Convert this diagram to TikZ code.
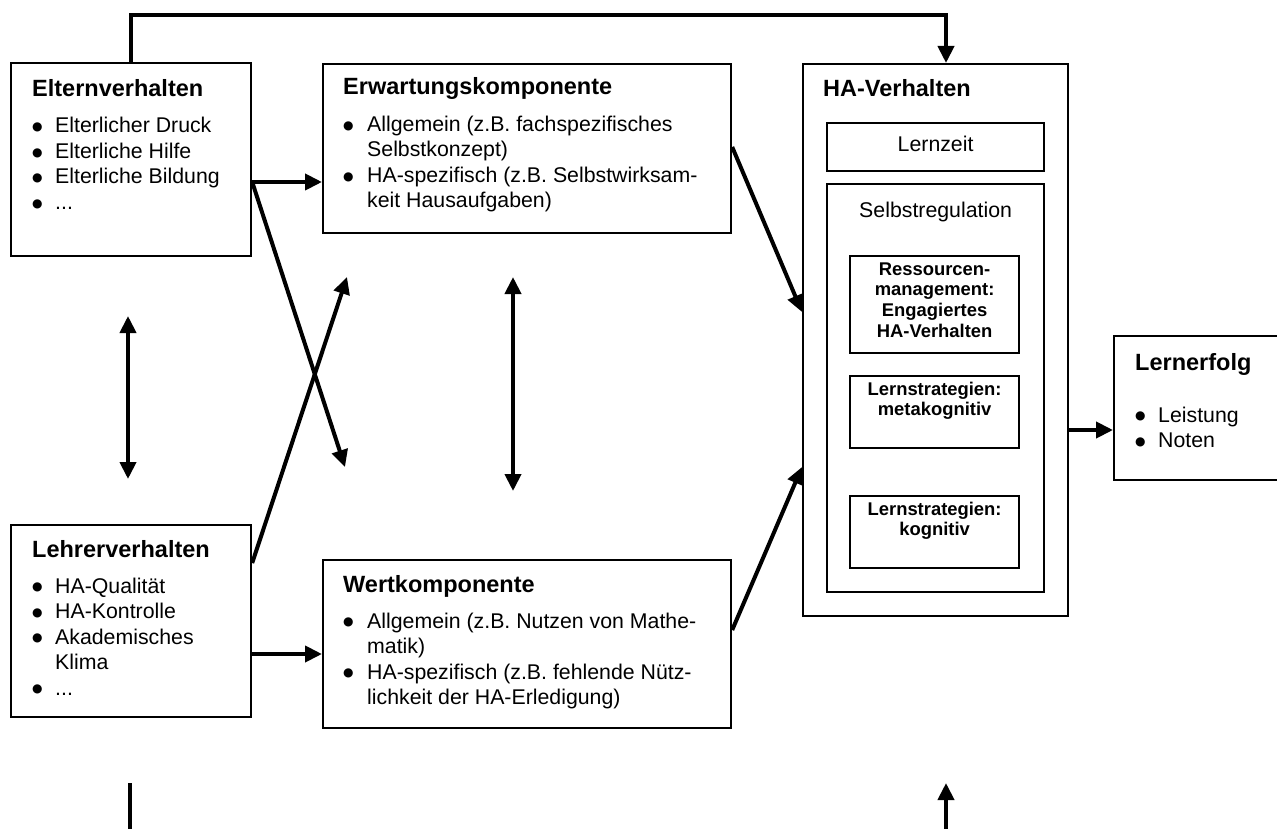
\documentclass[tikz,border=0pt]{standalone}
\usepackage{fontspec}
\setmainfont{Liberation Sans}
\newfontfamily\dejavu{DejaVu Sans}
\usetikzlibrary{arrows.meta,calc}
\newcommand{\ttl}[1]{{\fontsize{23.5}{25.5}\selectfont\bfseries #1}}
\newcommand{\bul}{\raisebox{2.3pt}{\dejavu\fontsize{12}{12}\selectfont ●}}
\tikzset{
 box/.style={draw, line width=2.2pt, rectangle, inner sep=0pt, anchor=north west},
 txt/.style={anchor=base west, inner sep=0pt, font=\fontsize{21.3}{25.5}\selectfont},
 ctxt/.style={anchor=base, inner sep=0pt, font=\fontsize{21.3}{25.5}\selectfont},
 stxt/.style={anchor=base, inner sep=0pt, font=\fontsize{18.4}{20.7}\selectfont\bfseries},
 arr/.style={line width=4pt, -{Triangle[length=17pt,width=16pt]}},
 darr/.style={line width=4pt, {Triangle[length=17pt,width=16pt]}-{Triangle[length=17pt,width=16pt]}},
 ln/.style={line width=4pt},
}
\begin{document}
\begin{tikzpicture}[x=1pt,y=-1pt]
\clip (0,0) rectangle (1277,829);
% boxes
\node[box, minimum width=240pt, minimum height=193pt] (eltern) at (10,62) {};
\node[box, minimum width=408pt, minimum height=169pt] (erw) at (322,63) {};
\node[box, minimum width=240pt, minimum height=192pt] (lehrer) at (10,524) {};
\node[box, minimum width=408pt, minimum height=168pt] (wert) at (322,559) {};
\node[box, minimum width=265pt, minimum height=552pt] (ha) at (802,63) {};
\node[box, minimum width=217pt, minimum height=48pt] (lernzeit) at (826,122) {};
\node[box, minimum width=217pt, minimum height=408pt] (selbst) at (826,183) {};
\node[box, minimum width=169pt, minimum height=97pt] (ress) at (849,255) {};
\node[box, minimum width=169pt, minimum height=72pt] (meta) at (849,375) {};
\node[box, minimum width=169pt, minimum height=72pt] (kog) at (849,495) {};
\node[box, minimum width=187pt, minimum height=144pt] (erfolg) at (1113,335) {};
% texts
\node[txt] (elterntxt) at ($(eltern.north west)+(22,35)$) {\begin{tabular}[t]{@{}p{23pt}@{}l@{}}
\multicolumn{2}{@{}l@{}}{\ttl{Elternverhalten}}\\[10.5pt]
\bul & Elterlicher Druck\\
\bul & Elterliche Hilfe\\
\bul & Elterliche Bildung\\
\bul & ...
\end{tabular}};
\node[txt] (erwtxt) at ($(erw.north west)+(21,32)$) {\begin{tabular}[t]{@{}p{24pt}@{}l@{}}
\multicolumn{2}{@{}l@{}}{\ttl{Erwartungskomponente}}\\[11pt]
\bul & Allgemein (z.B. fachspezifisches\\
 & Selbstkonzept)\\
\bul & HA-spezifisch (z.B. Selbstwirksam-\\
 & keit Hausaufgaben)
\end{tabular}};
\node[txt] (lehrertxt) at ($(lehrer.north west)+(22,33)$) {\begin{tabular}[t]{@{}p{23pt}@{}l@{}}
\multicolumn{2}{@{}l@{}}{\ttl{Lehrerverhalten}}\\[10.5pt]
\bul & HA-Qualität\\
\bul & HA-Kontrolle\\
\bul & Akademisches\\
 & Klima\\
\bul & ...
\end{tabular}};
\node[txt] (werttxt) at ($(wert.north west)+(21,33)$) {\begin{tabular}[t]{@{}p{24pt}@{}l@{}}
\multicolumn{2}{@{}l@{}}{\ttl{Wertkomponente}}\\[10.5pt]
\bul & Allgemein (z.B. Nutzen von Mathe-\\
 & matik)\\
\bul & HA-spezifisch (z.B. fehlende Nütz-\\
 & lichkeit der HA-Erledigung)
\end{tabular}};
\node[txt] (hatxt) at ($(ha.north west)+(21,34)$) {\ttl{HA-Verhalten}};
\node[ctxt] (lernzeittxt) at ($(lernzeit.north)+(0,30)$) {Lernzeit};
\node[ctxt] (selbsttxt) at ($(selbst.north)+(0,35)$) {Selbstregulation};
\node[stxt] (resstxt) at ($(ress.north)+(0,20)$) {\begin{tabular}[t]{@{}c@{}}Ressourcen-\\management:\\Engagiertes\\HA-Verhalten\end{tabular}};
\node[stxt] (metatxt) at ($(meta.north)+(0,20)$) {\begin{tabular}[t]{@{}c@{}}Lernstrategien:\\metakognitiv\end{tabular}};
\node[stxt] (kogtxt) at ($(kog.north)+(0,20)$) {\begin{tabular}[t]{@{}c@{}}Lernstrategien:\\kognitiv\end{tabular}};
\node[txt] (erfolgtxt) at ($(erfolg.north west)+(22,35)$) {\begin{tabular}[t]{@{}p{23pt}@{}l@{}}
\multicolumn{2}{@{}l@{}}{\ttl{Lernerfolg}}\\[26.5pt]
\bul & Leistung\\
\bul & Noten
\end{tabular}};
% connectors
\coordinate (hatop) at ($(ha.north west)+(144,0)$);
\draw[arr] (eltern.north) -- ++(0,-47) -| (hatop);
\coordinate (ea) at ($(eltern.north east)+(0,120)$);
\draw[arr] (ea) -- (ea -| erw.west);
\coordinate (x1) at (345,467);
\draw[arr] (ea) -- (x1);
\coordinate (la) at ($(lehrer.north east)+(0,39)$);
\coordinate (x2) at (347,277);
\draw[arr] (la) -- (x2);
\coordinate (lb) at ($(lehrer.north east)+(0,130)$);
\draw[arr] (lb) -- (lb -| wert.west);
\coordinate (er) at ($(erw.north east)+(0,84)$);
\coordinate (hl1) at ($(ha.north west)+(0,249)$);
\draw[arr] (er) -- (hl1);
\coordinate (wr) at ($(wert.north east)+(0,71)$);
\coordinate (hl2) at ($(ha.north west)+(0,404)$);
\draw[arr] (wr) -- (hl2);
\coordinate (hr) at ($(ha.north east)+(0,367)$);
\draw[arr] (hr) -- (hr -| erfolg.west);
\coordinate (d1a) at (128,316);
\coordinate (d1b) at (128,479);
\draw[darr] (d1a) -- (d1b);
\coordinate (d2a) at (513,277);
\coordinate (d2b) at (513,491);
\draw[darr] (d2a) -- (d2b);
\coordinate (b1a) at (130,783);
\coordinate (b1b) at (130,835);
\draw[ln] (b1a) -- (b1b);
\coordinate (b2a) at (946,835);
\coordinate (b2b) at (946,783);
\draw[arr] (b2a) -- (b2b);
\end{tikzpicture}
\end{document}
